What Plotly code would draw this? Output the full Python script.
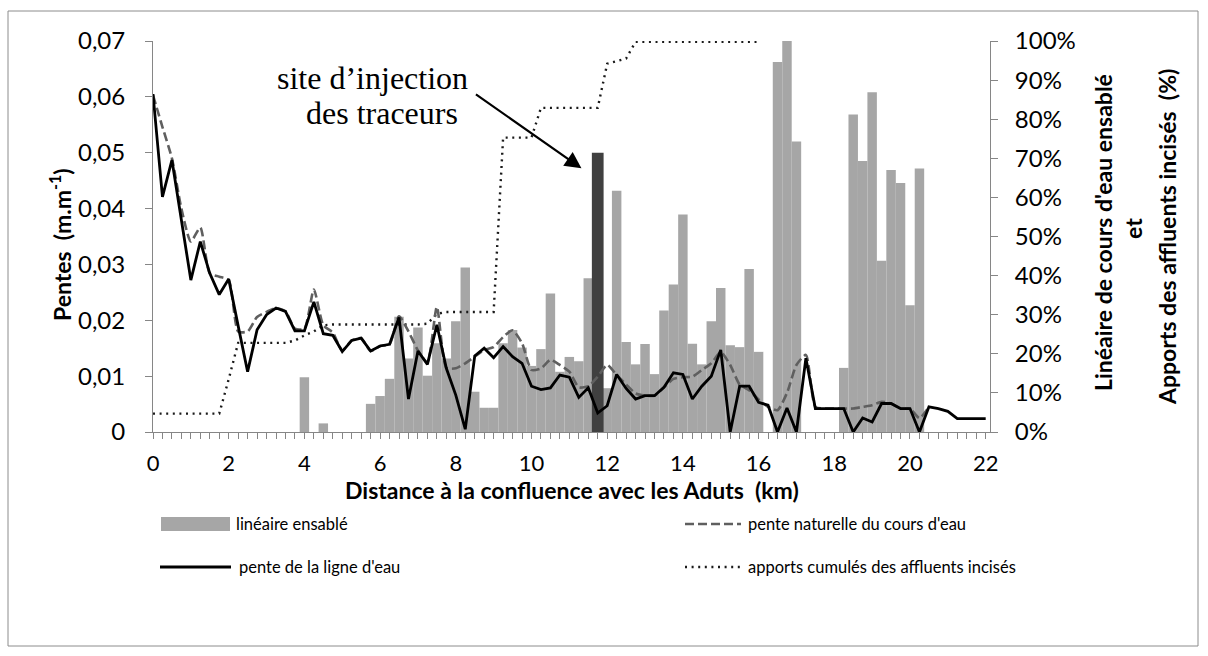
import numpy as np
import plotly.graph_objects as go

# Distance along the river (km), one category every 250 m
distance_km = np.round(np.arange(0, 22.01, 0.25), 2)

# Linear share of silted-up channel (%), per 250 m reach
lineaire_ensable = [
    0, 0, 0, 0, 0, 0, 0, 0, 0, 0, 0, 0, 0, 0, 0, 0,
    14.0, 0, 2.2, 0, 0, 0, 0,
    7.2, 9.2, 13.6, 29.5, 18.8, 26.7, 14.4, 22.7, 18.8, 28.3, 42.1, 10.3, 6.2, 6.2,
    22.7, 26.1, 21.6, 16.9, 21.2, 35.4, 15.4, 19.2, 18.1, 39.3, None, 11.2, 61.7,
    23.0, 17.3, 22.5, 14.8, 31.1, 37.7, 55.6, 22.6, 17.3, 28.3, 36.8, 22.2, 21.7,
    41.7, 20.5, 0, 94.6, 100.0, 74.3, 0, 0, 0, 0,
    16.4, 81.2, 69.3, 86.9, 43.8, 67.0, 63.7, 32.4, 67.4,
    0, 0, 0, 0, 0, 0, 0,
]

# Water-surface slope (m/m)
pente_ligne_eau = [
    0.0605, 0.0421, 0.0487, 0.0375, 0.0272, 0.0341, 0.0284, 0.0246, 0.0274, 0.0190,
    0.0108, 0.0183, 0.0210, 0.0222, 0.0216, 0.0181, 0.0181, 0.0233, 0.0176, 0.0173,
    0.0144, 0.0164, 0.0168, 0.0145, 0.0154, 0.0157, 0.0205, 0.0059, 0.0145, 0.0121,
    0.0192, 0.0114, 0.0066, 0.0005, 0.0136, 0.0150, 0.0133, 0.0153, 0.0135, 0.0123,
    0.0082, 0.0076, 0.0079, 0.0102, 0.0098, 0.0062, 0.0079, 0.0034, 0.0047, 0.0103,
    0.0078, 0.0059, 0.0065, 0.0065, 0.0080, 0.0106, 0.0103, 0.0059, 0.0082, 0.0100,
    0.0147, 0.0000, 0.0082, 0.0082, 0.0053, 0.0048, 0.0000, 0.0043, 0.0000, 0.0132,
    0.0042, 0.0042, 0.0042, 0.0042, 0.0000, 0.0025, 0.0018, 0.0051, 0.0051, 0.0042,
    0.0042, 0.0000, 0.0045, 0.0042, 0.0037, 0.0024, 0.0024, 0.0024, 0.0024,
]

# Natural bed slope (m/m)
pente_naturelle = [
    0.0603, 0.0546, 0.0490, 0.0400, 0.0341, 0.0366, 0.0284, 0.0278, 0.0272, 0.0180,
    0.0180, 0.0206, 0.0215, 0.0222, 0.0216, 0.0185, 0.0185, 0.0255, 0.0191, 0.0178,
    0.0146, 0.0164, 0.0168, 0.0145, 0.0154, 0.0157, 0.0207, 0.0180, 0.0146, 0.0125,
    0.0224, 0.0115, 0.0114, 0.0123, 0.0135, 0.0147, 0.0152, 0.0170, 0.0182, 0.0159,
    0.0111, 0.0114, 0.0129, 0.0120, 0.0108, 0.0080, 0.0082, 0.0099, 0.0120, 0.0102,
    0.0085, 0.0069, 0.0065, 0.0065, 0.0080, 0.0095, 0.0098, 0.0099, 0.0111, 0.0123,
    0.0143, 0.0120, 0.0085, 0.0075, 0.0058, 0.0045, 0.0039, 0.0070, 0.0120, 0.0138,
    0.0045, 0.0042, 0.0042, 0.0042, 0.0042, 0.0045, 0.0048, 0.0054, 0.0051, 0.0042,
    0.0042, 0.0025, 0.0045,
]

# Cumulated contribution of incised tributaries (%)
apports_cumules = [
    4.7, 4.7, 4.7, 4.7, 4.7, 4.7, 4.7, 4.7, 13.5,
    22.8, 22.8, 22.8, 22.8, 22.8, 22.8, 23.4, 24.7, 25.7, 27.3,
    27.5, 27.5, 27.5, 27.5, 27.5, 27.5, 27.5, 27.5, 27.5, 27.5, 27.7, 30.2,
    30.7, 30.7, 30.7, 30.7, 30.7, 30.7,
    75.3, 75.3, 75.3, 75.3,
    82.9, 82.9, 82.9, 82.9, 82.9, 82.9, 82.9,
    94.2, 94.8, 95.5,
    99.8, 99.8, 99.8, 99.8, 99.8, 99.8, 99.8, 99.8, 99.8, 99.8, 99.8, 99.8, 99.8, 99.8,
]

# Tracer injection site
injection_km = 11.75
injection_pente = 0.05

x_ticks = list(range(0, 23, 2))

# ---- page geometry (pixels) ----
W, H = 1208, 656
L, R, T, B = 153, 218, 41, 224
PW, PH = W - L - R, H - T - B


def px_x(px):
    return (px - L) / PW


def py_y(py):
    return (H - B - py) / PH


FONT = "Lato"
GREY_AXIS = "#868686"

fig = go.Figure()

# Silted-up channel share (right axis, %)
fig.add_trace(go.Bar(
    x=distance_km, y=lineaire_ensable, width=0.25,
    marker=dict(color="#a6a6a6", line=dict(width=0)),
    yaxis="y", showlegend=False,
))

# Cumulated tributary contributions (right axis, %)
fig.add_trace(go.Scatter(
    x=distance_km[:len(apports_cumules)], y=apports_cumules, mode="lines",
    line=dict(color="#1a1a1a", width=2.4, dash="2px,4.6px"),
    yaxis="y", showlegend=False,
))

# Injection site marker bar (left axis)
fig.add_trace(go.Bar(
    x=[injection_km], y=[injection_pente], width=0.31,
    marker=dict(color="#404040", line=dict(width=0)),
    yaxis="y2", showlegend=False,
))

# Natural slope (left axis)
fig.add_trace(go.Scatter(
    x=distance_km[:len(pente_naturelle)], y=pente_naturelle, mode="lines",
    line=dict(color="#5f5f5f", width=2.6, dash="9px,4px", shape="spline", smoothing=0.6),
    yaxis="y2", showlegend=False,
))

# Water-surface slope (left axis)
fig.add_trace(go.Scatter(
    x=distance_km, y=pente_ligne_eau, mode="lines",
    line=dict(color="#000000", width=2.8),
    yaxis="y2", showlegend=False,
))

tick_font = dict(family=FONT, size=24, color="#000000")
x_tick_font = dict(family=FONT, size=22, color="#000000")

fig.update_layout(
    width=W, height=H,
    margin=dict(l=L, r=R, t=T, b=B, autoexpand=False),
    paper_bgcolor="white", plot_bgcolor="white",
    separators=", ",
    barmode="overlay",
    xaxis=dict(
        range=[0, 22.114], tickvals=x_ticks, ticks="outside", ticklen=6,
        tickcolor=GREY_AXIS, showline=True, linecolor=GREY_AXIS, linewidth=1,
        showgrid=False, zeroline=False, tickfont=x_tick_font, ticklabelstandoff=6,
        minor=dict(dtick=0.25, tick0=0, ticks="outside", ticklen=6, tickcolor=GREY_AXIS,
                   showgrid=False),
    ),
    yaxis=dict(
        range=[0, 100], dtick=10, ticksuffix="%", side="right",
        ticks="outside", ticklen=7, tickcolor=GREY_AXIS,
        showline=True, linecolor=GREY_AXIS, linewidth=1,
        showgrid=False, zeroline=False, tickfont=tick_font, ticklabelstandoff=12,
    ),
    yaxis2=dict(
        range=[0, 0.07], dtick=0.01, side="left", overlaying="y",
        ticks="outside", ticklen=7, tickcolor=GREY_AXIS,
        showline=True, linecolor=GREY_AXIS, linewidth=1,
        showgrid=False, zeroline=False, tickfont=tick_font, ticklabelstandoff=15,
    ),
)

shapes = [
    # chart frame
    dict(type="rect", xref="paper", yref="paper",
         x0=px_x(8), x1=px_x(1198), y0=py_y(646), y1=py_y(11),
         line=dict(color="#8c8c8c", width=1), fillcolor="rgba(0,0,0,0)", layer="below"),
    # legend swatches
    dict(type="rect", xref="paper", yref="paper",
         x0=px_x(161), x1=px_x(230), y0=py_y(531), y1=py_y(517),
         fillcolor="#a6a6a6", line=dict(width=0)),
    dict(type="line", xref="paper", yref="paper",
         x0=px_x(685), x1=px_x(741), y0=py_y(524), y1=py_y(524),
         line=dict(color="#5f5f5f", width=2.6, dash="9px,4px")),
    dict(type="line", xref="paper", yref="paper",
         x0=px_x(160), x1=px_x(231), y0=py_y(567), y1=py_y(567),
         line=dict(color="#000000", width=2.8)),
    dict(type="line", xref="paper", yref="paper",
         x0=px_x(685), x1=px_x(741), y0=py_y(567), y1=py_y(567),
         line=dict(color="#1a1a1a", width=2.4, dash="2px,4.6px")),
]
fig.update_layout(shapes=shapes)

legend_font = dict(family=FONT, size=16.5, color="#000000")
annotations = [
    dict(text="linéaire ensablé", x=px_x(234), y=py_y(524), xanchor="left"),
    dict(text="pente naturelle du cours d'eau", x=px_x(746), y=py_y(524), xanchor="left"),
    dict(text="pente de la ligne d'eau", x=px_x(237), y=py_y(567), xanchor="left"),
    dict(text="apports cumulés des affluents incisés", x=px_x(746), y=py_y(567), xanchor="left"),
]

bold = dict(family=FONT, size=23, color="#000000", weight="bold")
annotations += [
    dict(text="Distance à la confluence avec les Aduts  (km)", x=px_x(572), y=py_y(490),
         xanchor="center", font=bold),
    dict(text="Pentes  (m.m<sup>-1</sup>)", x=px_x(60), y=py_y(245), textangle=-90,
         xanchor="center", font=bold),
    dict(text="Linéaire de cours d'eau ensablé", x=px_x(1103), y=py_y(233), textangle=-90,
         xanchor="center", font=bold),
    dict(text="et", x=px_x(1133), y=py_y(229), textangle=-90, xanchor="center", font=bold),
    dict(text="Apports des affluents incisés  (%)", x=px_x(1167), y=py_y(237), textangle=-90,
         xanchor="center", font=bold),
]

serif = dict(family="Liberation Serif", size=32, color="#000000")
annotations += [
    dict(text="site d’injection", x=px_x(372), y=py_y(78), xanchor="center", font=serif),
    dict(text="des traceurs", x=px_x(382), y=py_y(113), xanchor="center", font=serif),
]
for a in annotations:
    a.setdefault("font", legend_font)
    a.update(xref="paper", yref="paper", yanchor="middle", showarrow=False)

# arrow pointing at the injection bar
annotations.append(
    dict(text="", x=injection_km - 0.43, y=injection_pente - 0.0028, xref="x", yref="y2",
         ax=-107, ay=-75, showarrow=True, arrowhead=2, arrowsize=1.5, arrowwidth=2.2,
         arrowcolor="#000000", standoff=0)
)
fig.update_layout(annotations=annotations)

fig.write_html("out.html")
